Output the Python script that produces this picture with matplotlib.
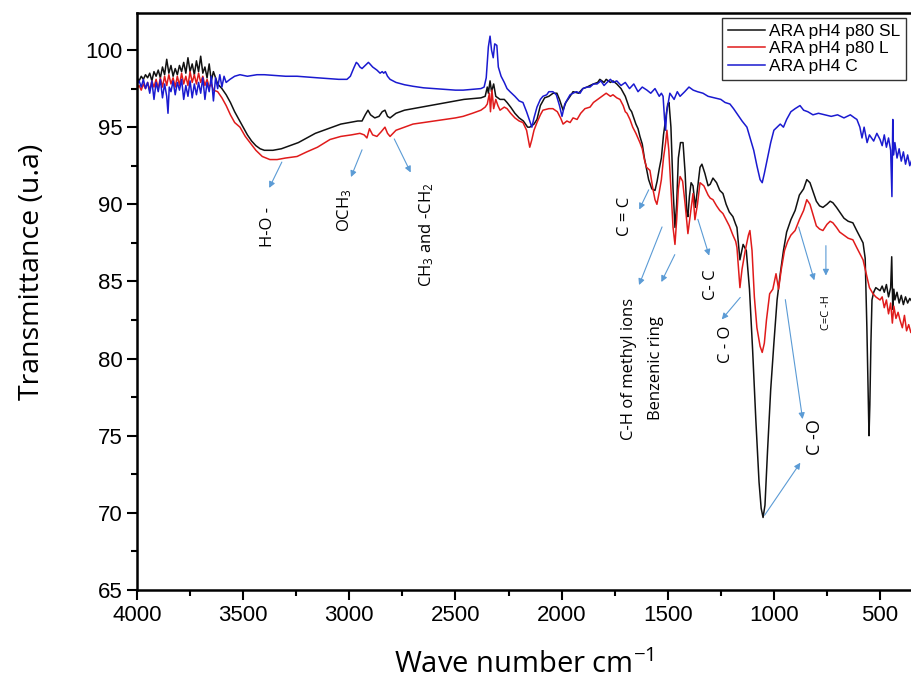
import matplotlib
matplotlib.use('Agg')
import matplotlib.pyplot as plt
from matplotlib.ticker import MultipleLocator

plt.rcParams['font.family'] = 'Liberation Sans'
plt.rcParams['mathtext.fontset'] = 'custom'
plt.rcParams['mathtext.rm'] = 'Open Sans'
plt.rcParams['mathtext.it'] = 'Open Sans'

# ---- data (wave number cm-1, transmittance u.a) ----
wn_sl = [4000, 3990, 3980, 3970, 3960, 3950, 3940, 3930, 3920, 3910, 3900, 3890, 3880, 3870,
         3860, 3850, 3840, 3830, 3820, 3810, 3800, 3790, 3780, 3770, 3760, 3750, 3740, 3730,
         3720, 3710, 3700, 3690, 3680, 3670, 3660, 3650, 3640, 3620, 3600, 3580, 3560, 3540,
         3520, 3500, 3480, 3460, 3440, 3420, 3400, 3360, 3320, 3280, 3240, 3200, 3160, 3120,
         3080, 3040, 3000, 2960, 2940, 2925, 2912, 2900, 2880, 2860, 2845, 2832, 2820, 2808,
         2780, 2740, 2700, 2660, 2620, 2580, 2540, 2500, 2460, 2420, 2380, 2360, 2350, 2345,
         2337, 2330, 2320, 2310, 2300, 2290, 2270, 2257, 2240, 2220, 2200, 2180, 2160, 2150,
         2130, 2116, 2100, 2080, 2060, 2040, 2022, 2010, 1993, 1980, 1960, 1946, 1920, 1900,
         1880, 1866, 1850, 1830, 1820, 1800, 1790, 1770, 1758, 1740, 1720, 1700, 1690, 1680,
         1670, 1660, 1650, 1640, 1631, 1620, 1610, 1600, 1590, 1575, 1560, 1550, 1540, 1530,
         1520, 1510, 1500, 1494, 1485, 1475, 1466, 1458, 1450, 1440, 1428, 1418, 1410, 1405,
         1398, 1390, 1381, 1370, 1360, 1348, 1339, 1325, 1310, 1300, 1287, 1270, 1255, 1240,
         1225, 1210, 1193, 1180, 1174, 1160, 1145, 1130, 1115, 1100, 1085, 1070, 1060, 1051,
         1042, 1030, 1015, 1000, 985, 970, 955, 940, 920, 900, 880, 860, 845, 830, 815, 800,
         785, 769, 750, 735, 722, 705, 690, 670, 650, 628, 610, 595, 580, 570, 562, 556, 552,
         548, 543, 538, 530, 520, 510, 500, 490, 480, 470, 460, 450, 445, 440, 435, 430, 420,
         410, 400, 390, 380, 370, 360, 350]
t_sl = [98.2, 98.0, 98.3, 98.1, 98.4, 98.2, 98.5, 98.0, 98.6, 98.3, 98.7, 98.2, 98.9, 98.4,
        99.4, 98.5, 99.0, 98.3, 98.8, 98.4, 99.0, 98.6, 99.2, 98.5, 99.5, 98.6, 99.1, 98.4,
        99.3, 98.6, 99.6, 98.5, 98.9, 98.2, 99.1, 98.0, 98.6, 97.8, 97.5, 97.1, 96.6, 96.0,
        95.5, 95.0, 94.5, 94.1, 93.8, 93.6, 93.5, 93.5, 93.6, 93.8, 94.0, 94.3, 94.6, 94.8,
        95.0, 95.2, 95.3, 95.4, 95.4, 95.8, 96.1, 95.8, 95.6, 95.7, 96.0, 96.1, 95.7, 95.6,
        95.9, 96.1, 96.2, 96.3, 96.4, 96.5, 96.6, 96.7, 96.8, 96.85, 96.9, 97.0, 97.6, 97.2,
        98.0, 97.3, 97.8, 97.0, 96.9, 96.8, 96.8, 96.6, 96.3, 95.9, 95.6, 95.4, 95.0, 95.0,
        95.2, 95.5, 96.4, 96.9, 97.0, 97.2, 97.2, 96.8, 96.1, 96.6, 97.0, 97.3, 97.2, 97.5,
        97.6, 97.7, 97.8, 97.9, 98.1, 97.9, 98.1, 97.9, 98.0, 97.8, 97.5, 97.0, 96.6, 96.2,
        96.0, 95.6, 95.2, 94.9, 94.4, 93.9, 93.0, 92.3, 91.6, 91.0, 90.9, 91.5, 92.3, 93.0,
        94.5, 95.5, 96.5, 96.6, 95.0, 91.0, 88.5, 90.0, 93.0, 94.0, 94.0, 92.0, 89.5, 89.2,
        90.5, 91.4, 91.2, 89.8, 91.0, 92.4, 92.6, 92.0, 91.2, 91.3, 91.7, 91.4, 90.9, 90.7,
        90.0, 89.5, 89.2, 88.7, 88.5, 86.4, 87.4, 87.0, 84.5, 80.5, 76.0, 72.0, 70.3, 69.7,
        70.5, 74.0, 78.0, 81.0, 83.8, 85.5, 87.0, 88.2, 89.0, 89.6, 90.6, 91.0, 91.6, 91.4,
        90.8, 90.2, 89.9, 89.8, 90.0, 90.2, 90.1, 89.8, 89.5, 89.1, 88.9, 88.8, 88.3, 87.9,
        87.5, 86.5, 82.0, 78.0, 75.0, 77.0, 81.0, 83.8, 84.3, 84.6, 84.5, 84.4, 84.7, 84.3,
        84.8, 84.0, 84.6, 86.6, 83.2, 84.5, 83.8, 84.3, 83.6, 84.1, 83.5, 84.0, 83.6, 83.9,
        83.7]

wn_l = [4000, 3990, 3980, 3970, 3960, 3950, 3940, 3930, 3920, 3910, 3900, 3890, 3880, 3870,
        3860, 3850, 3840, 3830, 3820, 3810, 3800, 3790, 3780, 3770, 3760, 3750, 3740, 3730,
        3720, 3710, 3700, 3690, 3680, 3670, 3660, 3650, 3640, 3620, 3600, 3580, 3560, 3540,
        3515, 3490, 3468, 3440, 3410, 3374, 3340, 3300, 3246, 3200, 3150, 3091, 3040, 2990,
        2950, 2930, 2917, 2905, 2890, 2870, 2850, 2832, 2820, 2808, 2780, 2740, 2700, 2650,
        2600, 2550, 2500, 2464, 2420, 2380, 2360, 2350, 2340, 2335, 2328, 2320, 2310, 2300,
        2290, 2270, 2257, 2240, 2220, 2200, 2182, 2165, 2150, 2140, 2130, 2116, 2100, 2088,
        2060, 2041, 2020, 2005, 1993, 1975, 1960, 1946, 1927, 1910, 1890, 1866, 1850, 1830,
        1810, 1790, 1770, 1758, 1740, 1725, 1710, 1700, 1692, 1678, 1665, 1650, 1631, 1620,
        1610, 1600, 1584, 1570, 1560, 1551, 1540, 1530, 1520, 1510, 1504, 1495, 1485, 1475,
        1466, 1458, 1450, 1442, 1430, 1418, 1405, 1395, 1381, 1372, 1360, 1348, 1330, 1310,
        1300, 1287, 1270, 1255, 1240, 1225, 1210, 1193, 1180, 1174, 1165, 1160, 1150, 1135,
        1120, 1113, 1103, 1092, 1080, 1065, 1055, 1045, 1035, 1020, 1005, 990, 978, 965,
        950, 935, 920, 900, 880, 860, 845, 830, 815, 800, 785, 769, 750, 735, 722, 705,
        690, 670, 650, 628, 610, 595, 580, 565, 550, 533, 520, 510, 500, 490, 480, 470,
        460, 450, 442, 435, 425, 415, 406, 395, 385, 375, 365, 355]
t_l = [97.5, 97.7, 97.4, 97.8, 97.5, 97.9, 97.4, 98.0, 97.6, 98.1, 97.5, 98.2, 97.6, 98.3,
       97.7, 98.4, 97.8, 98.2, 97.6, 98.3, 97.7, 98.5, 97.8, 98.3, 97.7, 98.6, 97.9, 98.4,
       97.8, 98.5, 97.9, 98.3, 97.7, 98.1, 97.6, 97.8, 97.4, 97.3, 96.9, 96.4, 95.8, 95.3,
       95.0, 94.4, 94.0, 93.5, 93.1, 92.9, 92.9, 93.0, 93.1, 93.4, 93.7, 94.2, 94.4, 94.5,
       94.6, 94.5, 94.3, 94.9, 94.5, 94.4, 94.7, 95.0, 94.6, 94.4, 94.8, 95.0, 95.2, 95.3,
       95.4, 95.5, 95.6, 95.7, 95.9, 96.1, 96.3, 96.5, 97.2, 96.0, 97.4, 96.2, 96.8, 96.4,
       96.1, 96.3, 96.2, 95.9, 95.6, 95.4, 95.3, 94.8, 93.7, 94.2, 94.8, 95.3, 95.8, 96.1,
       96.2, 96.2, 96.0, 95.6, 95.2, 95.4, 95.3, 95.6, 95.5, 95.9, 96.2, 96.3, 96.6, 96.8,
       97.0, 97.2, 97.0, 97.1, 96.9, 96.8, 96.4, 96.0, 95.9, 95.5, 95.0, 94.6, 94.0, 93.6,
       92.9, 92.4, 92.2, 91.0, 90.3, 90.0, 90.8, 91.6, 93.0, 94.0, 94.8, 93.5, 91.0, 88.5,
       87.4, 89.0, 91.0, 91.8, 91.5, 90.0, 88.1, 89.2, 90.7, 89.0, 90.0, 91.4, 91.2, 90.6,
       90.4, 90.3, 89.9, 89.6, 89.4, 89.0, 88.6, 88.0, 87.6, 87.2, 85.5, 84.6, 85.8, 87.0,
       88.0, 88.3, 87.0, 84.0, 82.0, 80.8, 80.4, 81.0, 82.5, 84.2, 84.5, 85.5, 84.5, 85.8,
       87.0, 87.6, 88.0, 88.3, 89.0, 89.6, 90.3, 90.0, 89.3, 88.6, 88.4, 88.3, 88.7, 88.9,
       88.8, 88.5, 88.2, 88.0, 87.8, 87.7, 87.2, 86.8, 86.4, 85.5, 84.6, 84.2, 84.0, 83.9,
       83.8, 84.0, 83.3, 83.8, 82.9, 83.6, 82.3, 83.4, 82.6, 83.0, 82.5, 82.0, 82.8, 81.8,
       82.2, 81.7]

wn_c = [4000, 3990, 3980, 3970, 3960, 3950, 3940, 3930, 3920, 3910, 3900, 3890, 3880, 3870,
        3860, 3854, 3848, 3840, 3830, 3820, 3810, 3800, 3790, 3780, 3770, 3760, 3750, 3740,
        3730, 3720, 3710, 3700, 3690, 3680, 3670, 3660, 3650, 3640, 3630, 3620, 3610, 3600,
        3590, 3580, 3562, 3540, 3515, 3480, 3435, 3400, 3350, 3300, 3246, 3200, 3150, 3100,
        3050, 3011, 2995, 2980, 2967, 2959, 2950, 2940, 2925, 2910, 2903, 2890, 2870, 2855,
        2845, 2838, 2830, 2820, 2808, 2780, 2740, 2700, 2650, 2600, 2550, 2500, 2464, 2420,
        2380, 2365, 2355, 2345, 2337, 2330, 2322, 2315, 2305, 2298, 2285, 2270, 2257, 2243,
        2220, 2200, 2182, 2165, 2150, 2140, 2130, 2116, 2100, 2088, 2070, 2060, 2041, 2025,
        2010, 1998, 1985, 1960, 1946, 1930, 1913, 1900, 1880, 1866, 1850, 1833, 1815, 1800,
        1786, 1770, 1758, 1740, 1720, 1700, 1680, 1660, 1640, 1620, 1598, 1580, 1560, 1540,
        1530, 1522, 1515, 1510, 1505, 1490, 1470, 1455, 1442, 1420, 1400, 1380, 1360, 1334,
        1310, 1280, 1250, 1230, 1207, 1190, 1170, 1150, 1127, 1110, 1095, 1080, 1065, 1055,
        1045, 1030, 1015, 1000, 985, 970, 955, 940, 920, 900, 877, 860, 840, 816, 790, 760,
        730, 700, 670, 640, 620, 609, 595, 585, 575, 561, 550, 530, 515, 500, 490, 480,
        470, 460, 450, 444, 440, 436, 430, 420, 410, 400, 390, 380, 370, 360, 350]
t_c = [97.8, 98.0, 97.6, 98.1, 97.5, 97.9, 97.2, 98.0, 96.8, 97.9, 97.3, 98.1, 96.9, 97.8,
       97.0, 95.9, 97.6, 97.3, 98.0, 97.1, 97.9, 97.4, 98.1, 96.8, 97.7, 97.0, 98.0, 96.9,
       97.8, 97.1, 97.9, 97.2, 98.2, 96.8, 97.9, 97.3, 98.3, 96.7, 98.2, 97.5, 98.4, 97.6,
       98.3, 97.9, 98.1, 98.3, 98.4, 98.3, 98.4, 98.4, 98.35, 98.3, 98.3, 98.25, 98.2, 98.15,
       98.1, 98.1, 98.3, 98.8, 99.2, 99.1, 98.9, 98.8, 99.0, 99.2, 99.1, 98.9, 98.7, 98.5,
       98.6, 98.5, 98.6, 98.3, 98.1, 97.9, 97.75, 97.65, 97.55, 97.5, 97.45, 97.4, 97.4, 97.45,
       97.5, 97.6, 98.2, 100.2, 100.9, 100.0, 99.5, 100.4, 100.3, 98.9, 98.3, 97.9, 97.5, 97.3,
       97.0, 96.7, 96.6, 96.0, 95.4, 95.0, 95.6, 96.3, 96.8, 97.0, 97.1, 97.3, 97.3, 97.1,
       96.4, 95.7, 96.5, 97.1, 97.2, 97.3, 97.2, 97.5, 97.6, 97.6, 97.8, 97.8, 98.0, 97.7,
       97.9, 98.1, 97.9, 98.0, 97.7, 97.9, 97.5, 97.8, 97.3, 97.6, 97.4, 97.2, 97.5, 97.0,
       97.2, 97.0, 95.5, 94.8, 96.0, 97.2, 96.8, 97.3, 97.0, 97.3, 97.6, 97.4, 97.3, 97.2,
       97.0, 96.9, 96.8, 96.6, 96.5, 96.2, 95.8, 95.4, 95.0, 94.2, 93.5, 92.5, 91.6, 91.4,
       92.0, 93.0, 94.0, 94.8, 95.0, 95.2, 95.0, 95.5, 96.0, 96.2, 96.4, 96.1, 96.0, 95.8,
       95.9, 95.8, 95.7, 95.8, 95.6, 95.8, 95.6, 95.5, 95.0, 94.3, 95.0, 94.0, 94.5, 94.1,
       94.6, 94.2, 93.8, 94.5, 93.7, 94.3, 93.5, 90.5, 95.5, 93.2, 94.0, 93.0, 93.6, 92.8,
       93.4, 92.6, 93.2, 92.5, 92.9]

labels = ['ARA pH4 p80 SL', 'ARA pH4 p80 L', 'ARA pH4 C']
colors = ['#111111', '#e01b1b', '#1a1ad0']

fig = plt.figure(figsize=(9.12, 6.84), dpi=100)
ax = fig.add_axes([137 / 912, 94 / 684, 785.5 / 912, 577 / 684])

ax.plot(wn_sl, t_sl, color=colors[0], lw=1.1, label=labels[0])
ax.plot(wn_l, t_l, color=colors[1], lw=1.1, label=labels[1])
ax.plot(wn_c, t_c, color=colors[2], lw=1.1, label=labels[2])

ax.set_xlim(4000, 300)
ax.set_ylim(65, 102.4)
ax.xaxis.set_major_locator(MultipleLocator(500))
ax.xaxis.set_minor_locator(MultipleLocator(250))
ax.yaxis.set_major_locator(MultipleLocator(5))
ax.yaxis.set_minor_locator(MultipleLocator(2.5))
ax.tick_params(which='major', length=7, width=1.5, labelsize=16, direction='out')
ax.tick_params(which='minor', length=4, width=1.5, direction='out')
for s in ax.spines.values():
    s.set_linewidth(1.8)

fig.text(32 / 912, 1 - 272 / 684, 'Transmittance (u.a)', rotation=90,
         ha='center', va='center', fontsize=20.5, family='Open Sans')
fig.text(524 / 912, 1 - 665 / 684, 'Wave number cm$^{-1}$',
         ha='center', va='center', fontsize=21, family='Open Sans')

leg = ax.legend(loc='upper left', bbox_to_anchor=(722 / 912, 1 - 18 / 684),
                bbox_transform=fig.transFigure, fontsize=12.5, frameon=True,
                fancybox=False, edgecolor='black', handlelength=2.1,
                labelspacing=0.12, borderaxespad=0, handletextpad=0.25,
                borderpad=0.35)
leg.get_frame().set_linewidth(1.0)

# band assignments: (text, text pos, arrow start/end pairs, fontsize)
arrow_kw = dict(arrowstyle='-|>', color='#5b9bd5', lw=0.8, mutation_scale=9)
notes = [
    ('H-O -', (3383, 88.5), [((3312, 92.9), (3383, 90.9))], 12),
    ('OCH$_3$', (3020, 89.6), [((2935, 93.7), (2997, 91.6))], 12),
    ('CH$_3$ and -CH$_2$', (2634, 88.0), [((2794, 94.4), (2705, 91.9))], 12),
    ('C = C', (1701, 89.2), [((1584, 91.1), (1640, 89.5))], 12),
    ('C-H of methyl ions', (1683, 79.3), [((1522, 88.7), (1640, 84.6))], 12),
    ('Benzenic ring', (1555, 79.4), [((1461, 86.9), (1536, 84.8))], 12),
    ('C- C', (1296, 84.8), [((1362, 89.2), (1301, 86.5))], 12),
    ('C - O', (1226, 80.9), [((1150, 84.1), (1254, 82.4))], 12),
    ('C=C -H', (750, 83.0), [((887, 88.7), (806, 84.9)), ((755, 87.5), (755, 85.2))], 8),
    ('C -O', (806, 74.9), [((948, 84.0), (863, 75.9)), ((1051, 69.7), (868, 73.4))], 13),
]
for txt, pos, arrows, fs in notes:
    ax.text(pos[0], pos[1], txt, rotation=90, ha='center', va='center',
            fontsize=fs, family='Open Sans')
    for start, end in arrows:
        ax.annotate('', xy=end, xytext=start, arrowprops=arrow_kw)

fig.savefig('out.png', dpi=100)
